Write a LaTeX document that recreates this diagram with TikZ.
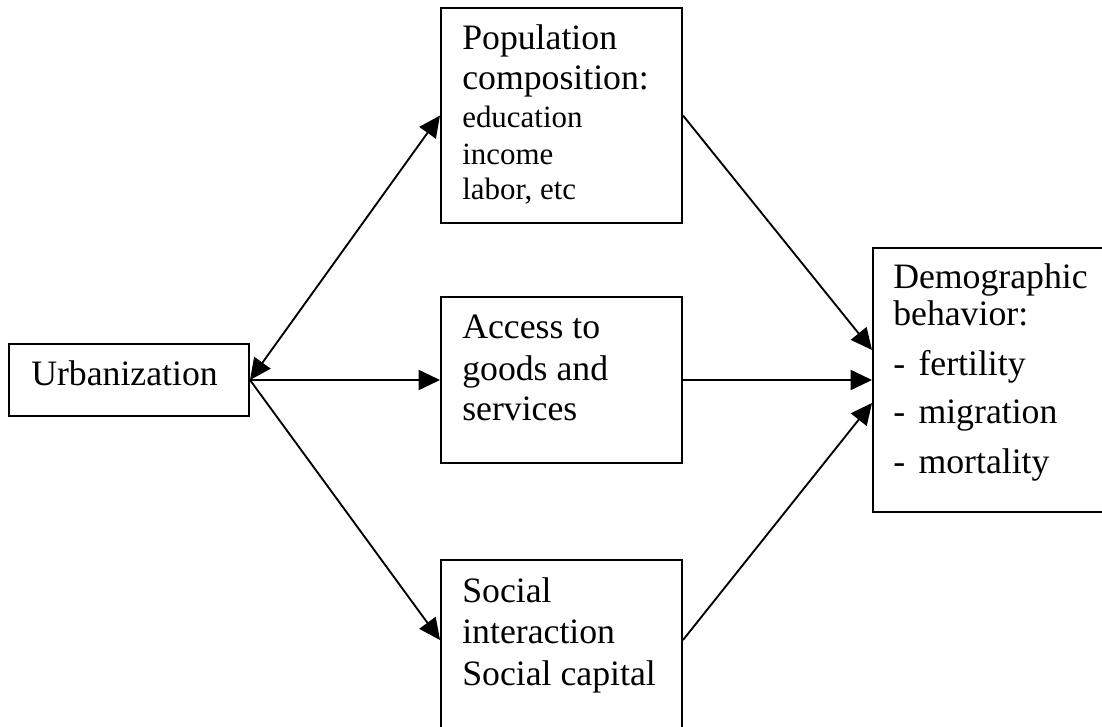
\documentclass[tikz,border=0pt]{standalone}
\usepackage{fontspec}
\setmainfont{Liberation Serif}
\usetikzlibrary{arrows.meta}
\begin{document}
\begin{tikzpicture}[x=0.75pt,y=-0.75pt,
  box/.style={draw, line width=1.5pt, rectangle, inner sep=0pt},
  big/.style={anchor=base west, inner sep=0pt, font=\fontsize{26.8}{32}\selectfont},
  small/.style={anchor=base west, inner sep=0pt, font=\fontsize{23.2}{28}\selectfont},
  link/.style={line width=1.4pt, -{Triangle[length=16pt,width=15pt]}},
  twoway/.style={line width=1.4pt, {Triangle[length=16pt,width=15pt]}-{Triangle[length=16pt,width=15pt]}},
]
\useasboundingbox (0,0) rectangle (1102,727);
\clip (0,0) rectangle (1102,727);

% boxes
\node[box, minimum width=180pt,    minimum height=54pt]     (urb) at (129,380)    {};
\node[box, minimum width=180.75pt, minimum height=161.25pt] (pop) at (561.5,115.5) {};
\node[box, minimum width=180.75pt, minimum height=124.5pt]  (acc) at (561.5,380)  {};
\node[box, minimum width=180.75pt, minimum height=150pt]    (soc) at (561.5,660)  {};
\node[box, minimum width=192.75pt, minimum height=198pt]    (dem) at (1001.5,380) {};

% box texts
\node[big] (urb-1) at (31,385) {Urbanization};

\node[big]   (pop-1) at (462,50)  {Population};
\node[big]   (pop-2) at (462,90)  {composition:};
\node[small] (pop-3) at (462,128) {education};
\node[small] (pop-4) at (462,165) {income};
\node[small] (pop-5) at (462,200) {labor, etc};

\node[big] (acc-1) at (462,338) {Access to};
\node[big] (acc-2) at (462,380) {goods and};
\node[big] (acc-3) at (462,420) {services};

\node[big] (soc-1) at (462,602) {Social};
\node[big] (soc-2) at (462,643) {interaction};
\node[big] (soc-3) at (462,685) {Social capital};

\node[big] (dem-1) at (893,288) {Demographic};
\node[big] (dem-2) at (893,325) {behavior:};
\node[big] (dem-3) at (893,375) {-\hspace{10pt}fertility};
\node[big] (dem-4) at (893,423) {-\hspace{10pt}migration};
\node[big] (dem-5) at (893,473) {-\hspace{10pt}mortality};

% connectors
\draw[twoway] (urb.east) -- (pop.west);
\draw[link] (urb.east) -- (acc.west);
\draw[link] (urb.east) -- ([yshift=15pt]soc.west);
\draw[link] (pop.east) -- ([yshift=22.5pt]dem.west);
\draw[link] (acc.east) -- (dem.west);
\draw[link] ([yshift=15pt]soc.east) -- ([yshift=-17.25pt]dem.west);
\end{tikzpicture}
\end{document}
